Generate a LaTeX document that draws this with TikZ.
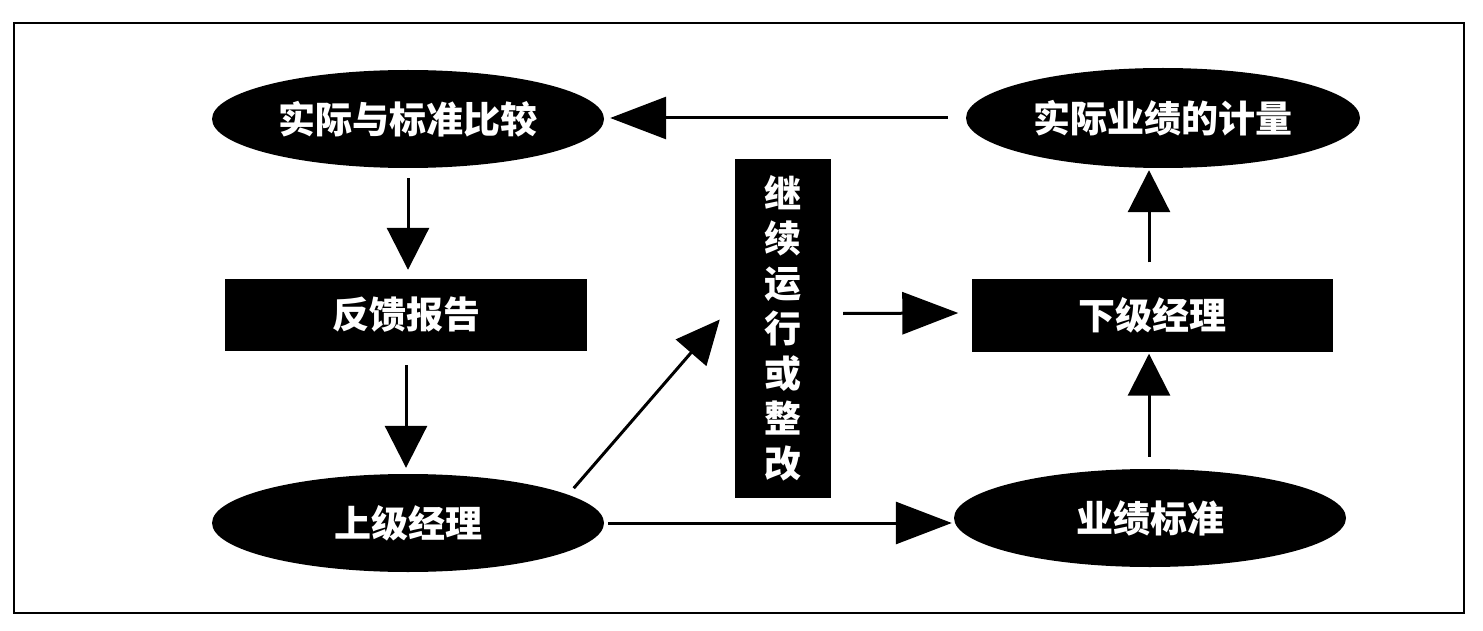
\documentclass[tikz,border=0pt]{standalone}
\usepackage{fontspec}
\newfontfamily\cjk{Noto Sans CJK SC}
\usetikzlibrary{shapes.geometric,arrows.meta,calc}
\begin{document}
\begin{tikzpicture}[x=1pt,y=-1pt,
  lbl/.style={text=white,font=\cjk\bfseries\fontsize{37}{45}\selectfont,inner sep=0pt},
  oval/.style={ellipse,fill=black,draw=none,minimum width=392pt,minimum height=98pt,lbl},
  blk/.style={rectangle,fill=black,draw=none,lbl},
  conn/.style={line width=3pt},
  harr/.style={conn,-{Triangle[length=56pt,width=42pt]}},
  varr/.style={conn,-{Triangle[length=42pt,width=42pt]}},
  darr/.style={conn,-{Triangle[length=44pt,width=40pt]}}]
\useasboundingbox (0,0) rectangle (1483,631);
\draw[line width=2pt] (14,23) rectangle (1464,613);

\node[oval] (A) at (408,119) {实际与标准比较};
\node[oval,minimum width=394pt,minimum height=100pt] (B) at (1163,118) {实际业绩的计量};
\node[blk,minimum width=362pt,minimum height=72pt] (F) at (406,315) {反馈报告};
\node[oval] (C) at (408,523) {上级经理};
\node[blk,minimum width=96pt,minimum height=339pt,align=center] (V) at (783,328.5)
  {继\\续\\运\\行\\或\\整\\改};
\node[blk,minimum width=361pt,minimum height=73pt] (E) at (1152,315) {下级经理};
\node[oval] (D) at (1150,518) {业绩标准};

\coordinate (et) at ($(E.north)+(-3,0)$);
\coordinate (eb) at ($(E.south)+(-3,0)$);
\coordinate (dn) at ($(D.north)+(-1,0)$);

\draw[harr,shorten <=18pt,shorten >=6pt] (B.west) -- (B.west -| A.east);
\draw[varr,shorten <=10pt,shorten >=9pt] (A.south) -- (A.south |- F.north);
\draw[varr,shorten <=14pt,shorten >=6pt] (F.south) -- (F.south |- C.north);
\draw[darr] ([xshift=27pt]C.north east) -- ($(V.west)+(-15,-9)$);
\draw[harr] ($(V.east)+(12,-15)$) -- ($(E.west)+(-13,-2)$);
\draw[harr,shorten <=4pt,shorten >=2pt] (C.east) -- (C.east -| D.west);
\draw[varr,shorten <=12pt,shorten >=2pt] (dn) -- (eb);
\draw[varr,shorten <=16pt,shorten >=2pt] (et) -- (et |- B.south);
\end{tikzpicture}
\end{document}
